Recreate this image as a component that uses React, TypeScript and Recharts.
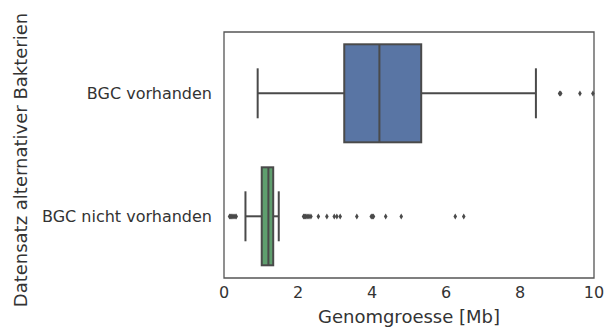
import React from 'react';
import { ComposedChart, Bar, XAxis, YAxis, ReferenceDot, ReferenceArea } from 'recharts';

const categories = ['BGC vorhanden', 'BGC nicht vorhanden'];
const whiskerLow = [0.91, 0.58];
const q1 = [3.25, 1.02];
const median = [4.2, 1.2];
const q3 = [5.33, 1.33];
const whiskerHigh = [8.43, 1.48];
const outliersTop = [9.07, 9.1, 9.62, 9.97];
const outliersBottom = [0.15, 0.18, 0.21, 0.24, 0.27, 0.3, 0.33, 2.15, 2.18, 2.2, 2.24, 2.27, 2.3, 2.35, 2.55, 2.78, 2.98, 3.05, 3.14, 3.59, 3.98, 4.01, 4.04, 4.37, 4.79, 6.25, 6.48];
const xTicks = [0, 2, 4, 6, 8, 10];
const boxColors = ['#5975a4', '#5f9e6e'];

const LINE = '#4a4a4a';
const TEXT = '#333333';
const FONT = 'DejaVu Sans, sans-serif';
const LW = 2;

const data = categories.map((name, i) => ({
  name,
  box: [q1[i], q3[i]],
  lo: whiskerLow[i],
  q1: q1[i],
  med: median[i],
  q3: q3[i],
  hi: whiskerHigh[i],
  color: boxColors[i],
}));

const BoxShape = (props: any) => {
  const { x, y, width, height, payload } = props;
  const k = width / (payload.q3 - payload.q1);
  const px = (v: number) => x + (v - payload.q1) * k;
  const cy = y + height / 2;
  const capH = height * 0.255;
  return (
    <g>
      <line x1={px(payload.lo)} x2={px(payload.q1)} y1={cy} y2={cy} stroke={LINE} strokeWidth={LW} />
      <line x1={px(payload.q3)} x2={px(payload.hi)} y1={cy} y2={cy} stroke={LINE} strokeWidth={LW} />
      <line x1={px(payload.lo)} x2={px(payload.lo)} y1={cy - capH} y2={cy + capH} stroke={LINE} strokeWidth={LW} />
      <line x1={px(payload.hi)} x2={px(payload.hi)} y1={cy - capH} y2={cy + capH} stroke={LINE} strokeWidth={LW} />
      <rect x={x} y={y} width={width} height={height} fill={payload.color} stroke={LINE} strokeWidth={LW} />
      <line x1={px(payload.med)} x2={px(payload.med)} y1={y} y2={y + height} stroke={LINE} strokeWidth={LW} />
    </g>
  );
};

const Diamond = (props: any) => {
  const { cx, cy } = props;
  const hw = 1.8;
  const hh = 2.9;
  return <polygon points={`${cx},${cy - hh} ${cx + hw},${cy} ${cx},${cy + hh} ${cx - hw},${cy}`} fill={LINE} />;
};

export default function App() {
  return (
    <div style={{ position: 'absolute', left: 0, top: 0 }}>
      <ComposedChart
        width={605}
        height={331}
        data={data}
        layout="vertical"
        margin={{ top: 32, right: 11, bottom: 0, left: 0 }}
        barCategoryGap="10%"
      >
        <XAxis
          type="number"
          domain={[0, 10]}
          ticks={xTicks}
          allowDataOverflow
          height={53}
          tickSize={0}
          tickMargin={9}
          axisLine={false}
          tick={{ fill: TEXT, fontSize: 16, fontFamily: FONT }}
          label={{
            content: (p: any) => {
              const vb = p.viewBox;
              return (
                <text x={vb.x + vb.width / 2} y={323} textAnchor="middle" fill={TEXT} fontSize={18} fontFamily={FONT}>
                  Genomgroesse [Mb]
                </text>
              );
            },
          }}
        />
        <YAxis
          type="category"
          dataKey="name"
          width={224}
          tickSize={0}
          tickMargin={12}
          axisLine={false}
          tick={{ fill: TEXT, fontSize: 16, fontFamily: FONT }}
          label={{
            content: (p: any) => {
              const vb = p.viewBox;
              const cx = 27;
              const cy = vb.y + vb.height / 2 + 5;
              return (
                <text x={cx} y={cy} transform={`rotate(-90 ${cx} ${cy})`} textAnchor="middle" fill={TEXT} fontSize={18} fontFamily={FONT}>
                  Datensatz alternativer Bakterien
                </text>
              );
            },
          }}
        />
        <Bar dataKey="box" shape={<BoxShape />} isAnimationActive={false} />
        {outliersTop.map((v, i) => (
          <ReferenceDot key={'t' + i} x={v} y={categories[0]} shape={<Diamond />} ifOverflow="visible" />
        ))}
        {outliersBottom.map((v, i) => (
          <ReferenceDot key={'b' + i} x={v} y={categories[1]} shape={<Diamond />} ifOverflow="visible" />
        ))}
        <ReferenceArea x1={0} x2={10} fill="none" stroke="#555555" strokeWidth={1.3} ifOverflow="visible" />
      </ComposedChart>
    </div>
  );
}
